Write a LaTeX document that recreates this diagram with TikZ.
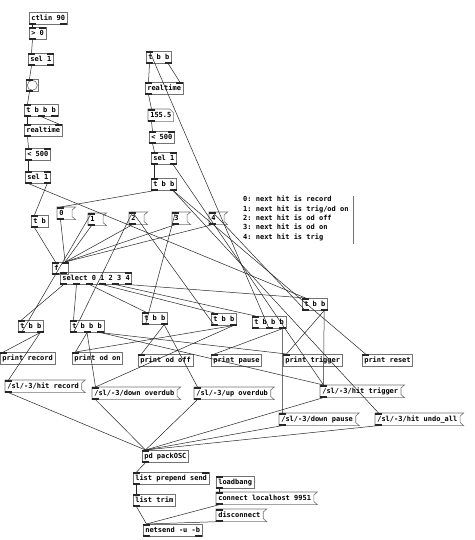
\documentclass[tikz,border=0pt]{standalone}
\usepackage{fontspec}
\setmonofont{DejaVu Sans Mono}
\usetikzlibrary{calc}
\tikzset{
  boxline/.style={draw=black!55, line width=0.6pt},
  obj/.style={boxline, anchor=north west, inner xsep=2pt, inner ysep=0pt,
    minimum height=12pt, text height=5.6pt, text depth=1.6pt,
    font=\ttfamily\bfseries\fontsize{7}{8}\selectfont},
  msgtext/.style={obj, draw=none},
  iolet/.style={fill=black!85},
  wire/.style={draw=black!85, line width=0.5pt},
  note/.style={anchor=north west, inner sep=0pt, align=left,
    font=\ttfamily\bfseries\fontsize{7}{9.3}\selectfont}
}
\newcommand\pdmsg[5][]{%
  \node[msgtext,#1] (#2) at (#3,#4) {#5};
  \draw[boxline] (#2.north west) -- ([xshift=4pt]#2.north east)
    -- ([xshift=0.5pt,yshift=-3pt]#2.north east) -- ([xshift=0.5pt,yshift=3pt]#2.south east)
    -- ([xshift=4pt]#2.south east) -- (#2.south west) -- cycle;}
\newcommand\pdin[2]{% node, count
  \ifnum#2=1 \fill[iolet] (#1.north west) rectangle ++(7,2);\fi
  \ifnum#2>1 \pgfmathtruncatemacro\nn{#2-1}%
    \foreach \i in {0,...,\nn}{\pgfmathsetmacro\f{\i/\nn}%
      \fill[iolet] ($(#1.north west)!\f!([xshift=-7pt]#1.north east)$) rectangle ++(7,2);}\fi}
\newcommand\pdout[2]{% node, count
  \ifnum#2=1 \fill[iolet] (#1.south west) rectangle ++(7,-2);\fi
  \ifnum#2>1 \pgfmathtruncatemacro\nn{#2-1}%
    \foreach \i in {0,...,\nn}{\pgfmathsetmacro\f{\i/\nn}%
      \fill[iolet] ($(#1.south west)!\f!([xshift=-7pt]#1.south east)$) rectangle ++(7,-2);}\fi}
\newcommand\wire[4]{\draw[wire]
  ($([xshift=3.5pt]#1.south west)!#2!([xshift=-3.5pt]#1.south east)$) --
  ($([xshift=3.5pt]#3.north west)!#4!([xshift=-3.5pt]#3.north east)$);}
\begin{document}
\begin{tikzpicture}[x=1pt,y=-1pt]
\useasboundingbox[fill=white] (0,0) rectangle (474,540);
% ---- left chain
\node[obj] (ctl) at (29,12) {ctlin 90};
\node[obj] (gt) at (29,27) {> 0};
\node[obj] (sela) at (28,53) {sel 1};
\node[boxline, anchor=north west, minimum size=12pt, inner sep=0pt] (bng) at (26,79) {};
\draw[boxline] (bng.center) circle (5pt);
\node[obj] (tbbb1) at (24,104) {t b b b};
\node[obj] (rt1) at (24,124) {realtime};
\node[obj] (lta) at (25,148) {< 500};
\node[obj] (selb) at (25,171) {sel 1};
\node[obj] (tb) at (31,215) {t b};
% ---- right chain
\node[obj] (tbbR) at (146,51) {t b b};
\node[obj] (rt2) at (145,82) {realtime};
\node[obj, draw=none] (num) at (148,109) {155.5};
\draw[boxline] (num.north west) -- ([xshift=-4pt]num.north east) -- ([yshift=-4pt]num.north east)
  -- (num.south east) -- (num.south west) -- cycle;
\node[obj] (ltb) at (149,131) {< 500};
\node[obj] (selc) at (151,152) {sel 1};
\node[obj] (tbbR2) at (151,178) {t b b};
% ---- state messages
\pdmsg[text width=10pt, align=left]{m0}{57}{207}{0}
\pdmsg[text width=10pt, align=left]{m1}{88}{213}{1}
\pdmsg[text width=10pt, align=left]{m2}{129}{212}{2}
\pdmsg[text width=10pt, align=left]{m3}{172}{212}{3}
\pdmsg[text width=10pt, align=left]{m4}{209}{212}{4}
\node[obj, text width=12pt, align=left] (f) at (52,262) {f};
\node[obj] (sel) at (60,272) {select 0 1 2 3 4};
% ---- comment
\node[note] (cmt) at (243,196) {0: next hit is record\\1: next hit is trig/od on\\2: next hit is od off\\3: next hit is od on\\4: next hit is trig};
\draw[draw=black!55, line width=0.6pt] ([xshift=5pt]cmt.north east) -- ([xshift=5pt,yshift=-3pt]cmt.south east);
% ---- triggers
\node[obj] (tbbrec) at (18,320) {t b b};
\node[obj] (tbbbon) at (70,320) {t b b b};
\node[obj] (tbboff) at (142,312) {t b b};
\node[obj] (tbb211) at (211,313) {t b b};
\node[obj] (tbbbp) at (252,316) {t b b b};
\node[obj] (tbbtr) at (302,298) {t b b};
% ---- prints
\node[obj] (prrec) at (0,352) {print record};
\node[obj] (pron) at (72,352) {print od on};
\node[obj] (proff) at (138,354) {print od off};
\node[obj] (prpause) at (211,354) {print pause};
\node[obj] (prtrig) at (283,354) {print trigger};
\node[obj] (prreset) at (362,354) {print reset};
% ---- OSC messages
\pdmsg{hrec}{5}{380}{/sl/-3/hit record}
\pdmsg{dod}{92}{387}{/sl/-3/down overdub}
\pdmsg{uod}{194}{387}{/sl/-3/up overdub}
\pdmsg{htrig}{320}{385}{/sl/-3/hit trigger}
\pdmsg{dpause}{279}{413}{/sl/-3/down pause}
\pdmsg{hundo}{375}{413}{/sl/-3/hit undo\_all}
% ---- network
\node[obj] (pack) at (142,450) {pd packOSC};
\node[obj] (lps) at (133,472) {list prepend send};
\node[obj] (ltrim) at (133,494) {list trim};
\node[obj] (lb) at (216,476) {loadbang};
\pdmsg{conn}{216}{492}{connect localhost 9951}
\pdmsg{disc}{216}{509}{disconnect}
\node[obj] (ns) at (143,524) {netsend -u -b};
% ---- iolets
\pdout{ctl}{2}
\pdin{gt}{2}\pdout{gt}{1}
\pdin{sela}{2}\pdout{sela}{2}
\pdin{bng}{1}\pdout{bng}{1}
\pdin{tbbb1}{1}\pdout{tbbb1}{3}
\pdin{rt1}{2}\pdout{rt1}{1}
\pdin{lta}{2}\pdout{lta}{1}
\pdin{selb}{2}\pdout{selb}{2}
\pdin{tb}{1}\pdout{tb}{1}
\pdin{tbbR}{1}\pdout{tbbR}{2}
\pdin{rt2}{2}\pdout{rt2}{1}
\pdin{num}{1}\pdout{num}{1}
\pdin{ltb}{2}\pdout{ltb}{1}
\pdin{selc}{2}\pdout{selc}{2}
\pdin{tbbR2}{1}\pdout{tbbR2}{2}
\foreach \m in {m0,m1,m2,m3,m4}{\pdin{\m}{1}\pdout{\m}{1}}
\pdin{f}{2}\pdout{f}{1}
\pdin{sel}{2}\pdout{sel}{6}
\foreach \t in {tbbrec,tbboff,tbb211,tbbtr}{\pdin{\t}{1}\pdout{\t}{2}}
\foreach \t in {tbbbon,tbbbp}{\pdin{\t}{1}\pdout{\t}{3}}
\foreach \p in {prrec,pron,proff,prpause,prtrig,prreset}{\pdin{\p}{1}}
\foreach \m in {hrec,dod,uod,htrig,dpause,hundo,conn,disc}{\pdin{\m}{1}\pdout{\m}{1}}
\pdin{pack}{1}\pdout{pack}{1}
\pdin{lps}{2}\pdout{lps}{1}
\pdin{ltrim}{1}\pdout{ltrim}{1}
\pdin{lb}{1}\pdout{lb}{1}
\pdin{ns}{1}\pdout{ns}{2}
% ---- wires: left chain
\wire{ctl}{0}{gt}{0}
\wire{gt}{0}{sela}{0}
\wire{sela}{0}{bng}{0}
\wire{bng}{0}{tbbb1}{0}
\wire{tbbb1}{0}{rt1}{0}
\wire{tbbb1}{0.5}{rt1}{1}
\wire{rt1}{0}{lta}{0}
\wire{lta}{0}{selb}{0}
\wire{selb}{1}{tb}{0}
\wire{selb}{0}{tbbtr}{0}
\wire{tb}{0}{f}{0}
% right chain
\wire{tbbR}{0}{rt2}{0}
\wire{tbbR}{1}{rt2}{1}
\wire{rt2}{0}{num}{0}
\wire{num}{0}{ltb}{0}
\wire{ltb}{0}{selc}{0}
\wire{selc}{0}{tbbR2}{0}
\wire{selc}{1}{htrig}{0}
\wire{tbbR2}{0}{m0}{0}
\wire{tbbR2}{1}{prreset}{0}
\wire{tbbR2}{1}{hundo}{0}
% state
\foreach \m in {m0,m1,m2,m3,m4}{\wire{\m}{0}{f}{1}}
\wire{f}{0}{sel}{0}
\wire{sel}{0}{tbbrec}{0}
\wire{sel}{0.2}{tbbbon}{0}
\wire{sel}{0.4}{tbboff}{0}
\wire{sel}{0.6}{tbb211}{0}
\wire{sel}{0.8}{tbbbp}{0}
\wire{sel}{1}{tbbtr}{0}
% triggers
\wire{tbbrec}{0}{m1}{0}
\wire{tbbrec}{1}{prrec}{0}
\wire{tbbrec}{1}{hrec}{0}
\wire{tbbbon}{0}{m2}{0}
\wire{tbbbon}{0.5}{pron}{0}
\wire{tbbbon}{0.5}{dod}{0}
\wire{tbbbon}{1}{prtrig}{0}
\wire{tbbbon}{1}{htrig}{0}
\wire{tbboff}{0}{m3}{0}
\wire{tbboff}{1}{proff}{0}
\wire{tbboff}{1}{uod}{0}
\wire{tbb211}{0}{m2}{0}
\wire{tbb211}{1}{pron}{0}
\wire{tbb211}{1}{dod}{0}
\wire{tbbbp}{0.5}{tbbR}{0}
\wire{tbbbp}{1}{prpause}{0}
\wire{tbbbp}{1}{dpause}{0}
\wire{tbbtr}{0}{m4}{0}
\wire{tbbtr}{1}{prtrig}{0}
\wire{tbbtr}{1}{htrig}{0}
% OSC
\foreach \m in {hrec,dod,uod,htrig,dpause,hundo}{\wire{\m}{0}{pack}{0}}
\wire{pack}{0}{lps}{0}
\wire{lps}{0}{ltrim}{0}
\wire{ltrim}{0}{ns}{0}
\wire{lb}{0}{conn}{0}
\wire{conn}{0}{ns}{0}
\wire{disc}{0}{ns}{0}
\end{tikzpicture}
\end{document}
